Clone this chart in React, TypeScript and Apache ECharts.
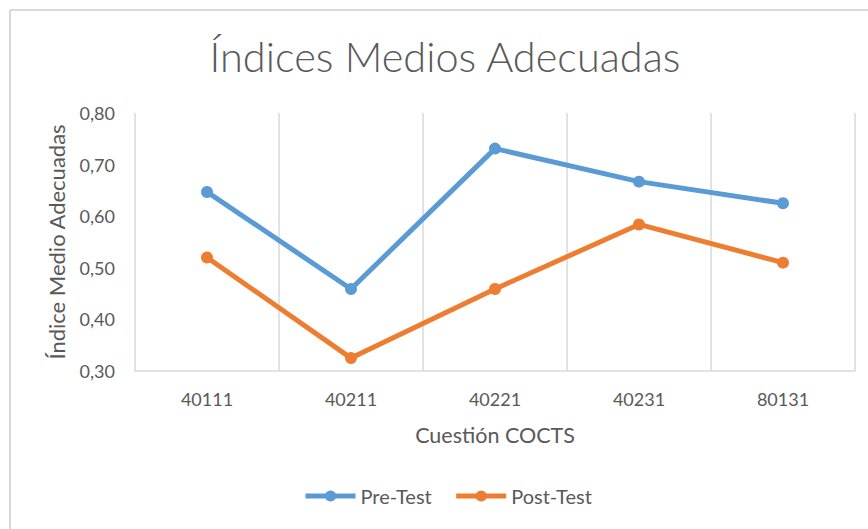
import React, { useEffect, useRef } from "react";
import * as echarts from "echarts";

const categories = ["40111", "40211", "40221", "40231", "80131"];
const preTest = [0.647, 0.459, 0.731, 0.667, 0.625];
const postTest = [0.52, 0.325, 0.459, 0.584, 0.51];
const seriesNames = ["Pre-Test", "Post-Test"];

const FONT = "Lato, 'Open Sans', sans-serif";
const TEXT = "#595959";
const GRID = "#d9d9d9";

export default function App() {
  const ref = useRef<HTMLDivElement>(null);
  useEffect(() => {
    if (!ref.current) return;
    const chart = echarts.init(ref.current, undefined, { renderer: "svg" });
    chart.setOption({
      animation: false,
      backgroundColor: "#ffffff",
      textStyle: { fontFamily: FONT },
      title: {
        text: "Índices Medios Adecuadas",
        left: 440,
        textAlign: "center",
        top: 30,
        textStyle: { fontFamily: FONT, fontSize: 41.5, fontWeight: 300, color: TEXT },
      },
      graphic: [
        { type: "line", shape: { x1: 10, y1: 10, x2: 868, y2: 10 }, style: { stroke: GRID, lineWidth: 2 } },
        { type: "line", shape: { x1: 10, y1: 10, x2: 10, y2: 529 }, style: { stroke: GRID, lineWidth: 2 } },
      ],
      legend: {
        bottom: 18,
        left: 298,
        itemWidth: 50,
        itemHeight: 14,
        itemGap: 22,
        lineStyle: { width: 5 },
        textStyle: { fontFamily: FONT, fontSize: 20, color: TEXT },
        data: seriesNames,
      },
      grid: { left: 135, right: 13, top: 113, bottom: 158, containLabel: false },
      xAxis: {
        type: "category",
        data: categories,
        boundaryGap: true,
        name: "Cuestión COCTS",
        nameLocation: "middle",
        nameGap: 53,
        nameTextStyle: { fontFamily: FONT, fontSize: 21.5, color: TEXT },
        axisLine: { show: true, lineStyle: { color: GRID, width: 1.5 } },
        axisTick: { show: false },
        axisLabel: { fontFamily: FONT, fontSize: 18, color: TEXT, margin: 19 },
        splitLine: { show: true, lineStyle: { color: GRID, width: 1.5 } },
      },
      yAxis: {
        type: "value",
        min: 0.3,
        max: 0.8,
        interval: 0.1,
        name: "Índice Medio Adecuadas",
        nameLocation: "middle",
        nameGap: 68,
        nameRotate: 90,
        nameTextStyle: { fontFamily: FONT, fontSize: 22, color: TEXT },
        axisLine: { show: false },
        axisTick: { show: false },
        splitLine: { show: false },
        axisLabel: {
          fontFamily: FONT,
          fontSize: 18,
          color: TEXT,
          margin: 20,
          formatter: (v: number) => v.toFixed(2).replace(".", ","),
        },
      },
      series: [
        {
          name: seriesNames[0],
          type: "line",
          data: preTest,
          symbol: "circle",
          symbolSize: 12,
          lineStyle: { width: 5, color: "#5B9BD5" },
          itemStyle: { color: "#5B9BD5" },
        },
        {
          name: seriesNames[1],
          type: "line",
          data: postTest,
          symbol: "circle",
          symbolSize: 12,
          lineStyle: { width: 5, color: "#ED7D31" },
          itemStyle: { color: "#ED7D31" },
        },
      ],
    });
    return () => chart.dispose();
  }, []);
  return (
    <div
      ref={ref}
      style={{ position: "fixed", left: 0, top: 0, width: 868, height: 529 }}
    />
  );
}
